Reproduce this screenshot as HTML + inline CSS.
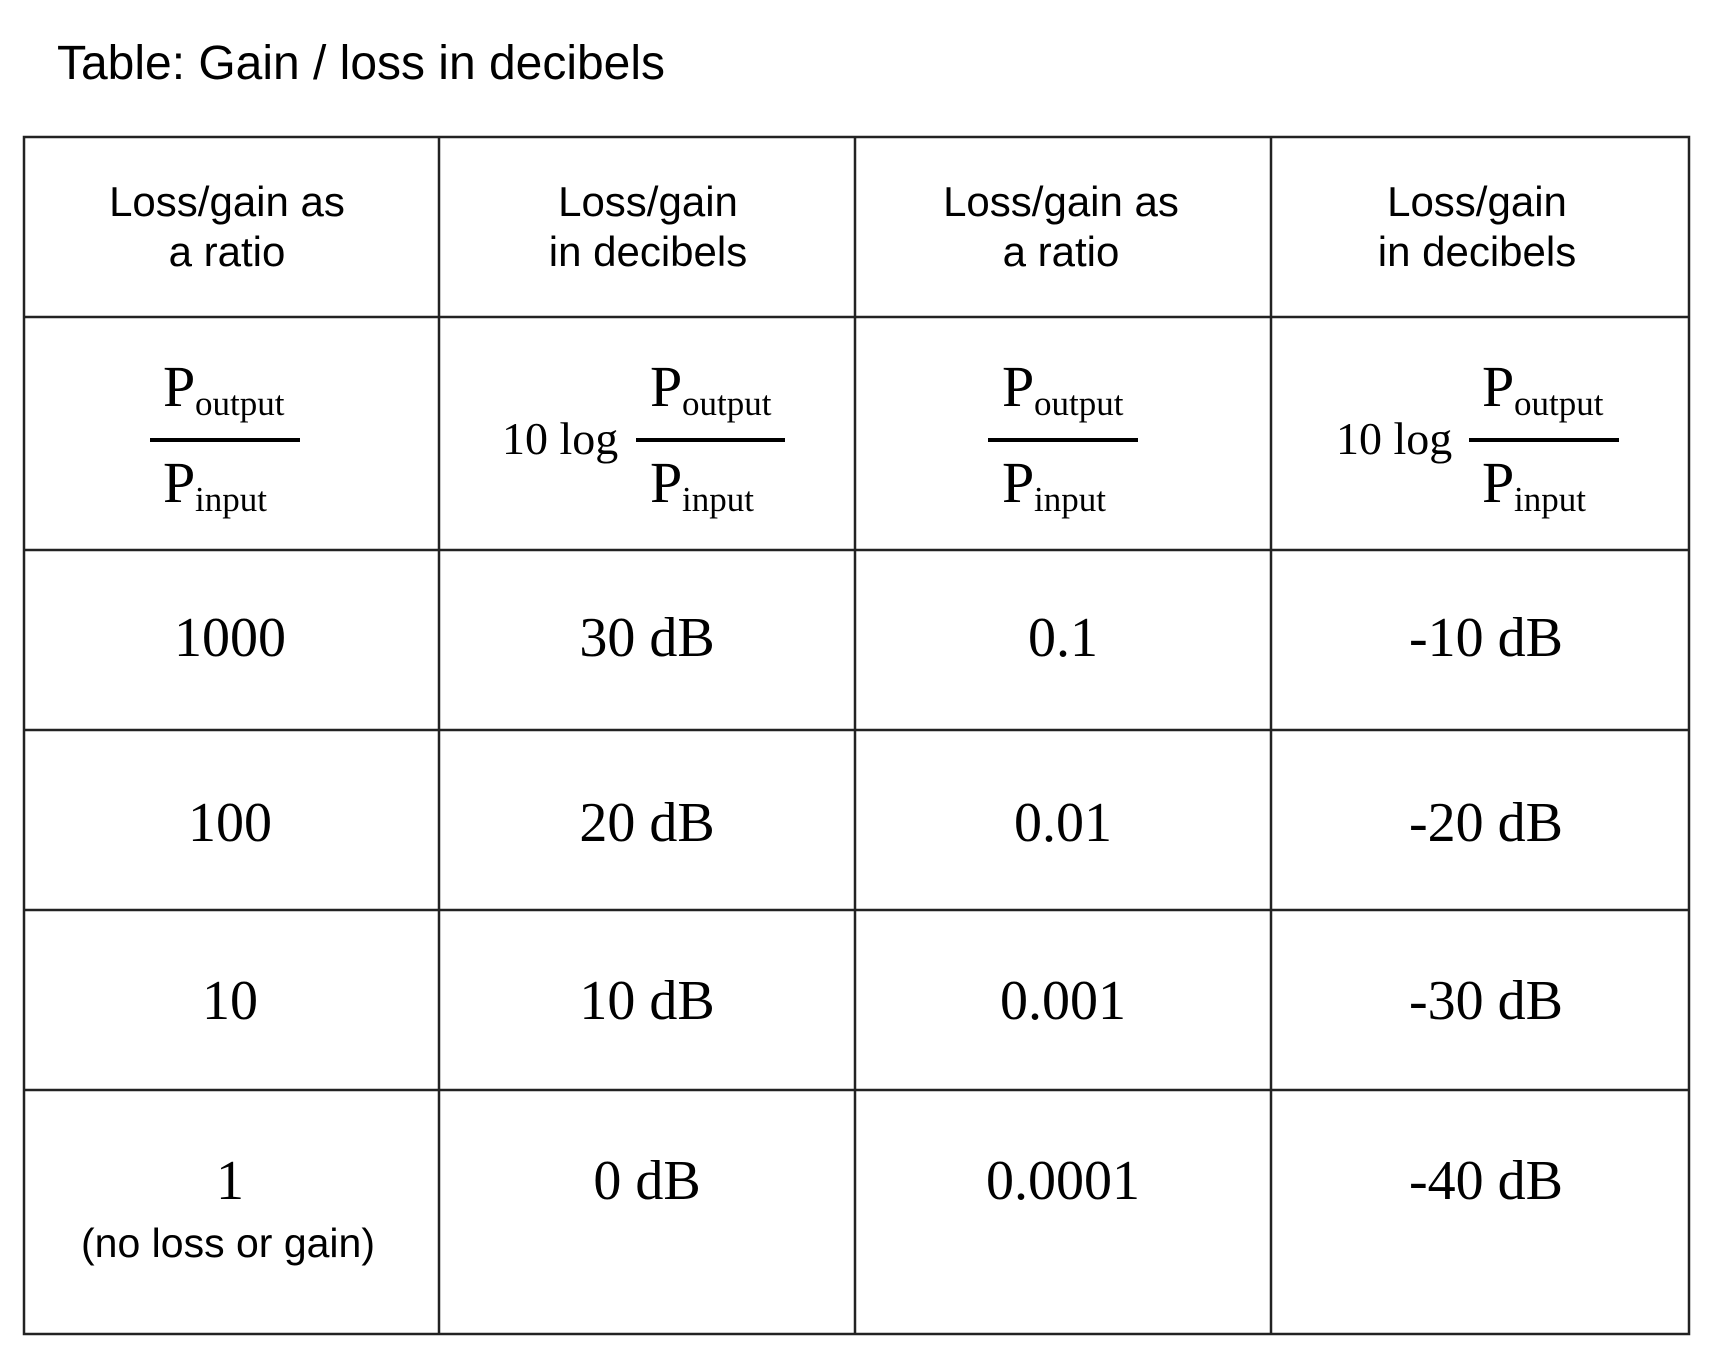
<!DOCTYPE html>
<html><head><meta charset="utf-8"><style>html,body{margin:0;padding:0;background:#fff}svg{display:block}</style></head>
<body>
<svg width="1713" height="1359" viewBox="0 0 1713 1359" xmlns="http://www.w3.org/2000/svg">
<rect width="1713" height="1359" fill="#fff"/>
<text x="57" y="79" font-family="Liberation Sans, Arial, sans-serif" font-size="48" textLength="608" lengthAdjust="spacingAndGlyphs" fill="#000">Table: Gain / loss in decibels</text>
<g stroke="#222" stroke-width="2.5" fill="none">
<rect x="24" y="137" width="1665" height="1197"/>
<line x1="439" y1="137" x2="439" y2="1334"/>
<line x1="855" y1="137" x2="855" y2="1334"/>
<line x1="1271" y1="137" x2="1271" y2="1334"/>
<line x1="24" y1="317" x2="1689" y2="317"/>
<line x1="24" y1="550" x2="1689" y2="550"/>
<line x1="24" y1="730" x2="1689" y2="730"/>
<line x1="24" y1="910" x2="1689" y2="910"/>
<line x1="24" y1="1090" x2="1689" y2="1090"/>
</g>
<g font-family="Liberation Sans, Arial, sans-serif" font-size="42" text-anchor="middle" fill="#000">
<text x="227" y="216">Loss/gain as</text><text x="227" y="266">a ratio</text>
<text x="648" y="216">Loss/gain</text><text x="648" y="266">in decibels</text>
<text x="1061" y="216">Loss/gain as</text><text x="1061" y="266">a ratio</text>
<text x="1477" y="216">Loss/gain</text><text x="1477" y="266">in decibels</text>
<text x="228" y="1257" font-size="41">(no loss or gain)</text>
</g>
<g stroke="#000" stroke-width="4">
<line x1="150" y1="440" x2="300" y2="440"/>
<line x1="636" y1="440" x2="785" y2="440"/>
<line x1="988" y1="440" x2="1138" y2="440"/>
<line x1="1469" y1="440" x2="1619" y2="440"/>
</g>
<g font-family="Liberation Serif, Times New Roman, serif" fill="#000">
<g font-size="58">
<text x="163" y="406">P</text><text x="163" y="502">P</text>
<text x="650" y="406">P</text><text x="650" y="502">P</text>
<text x="1002" y="406">P</text><text x="1002" y="502">P</text>
<text x="1482" y="406">P</text><text x="1482" y="502">P</text>
</g>
<g font-size="35">
<text x="195" y="415">output</text><text x="195" y="511">input</text>
<text x="682" y="415">output</text><text x="682" y="511">input</text>
<text x="1034" y="415">output</text><text x="1034" y="511">input</text>
<text x="1514" y="415">output</text><text x="1514" y="511">input</text>
</g>
<g font-size="46">
<text x="502" y="454">10 log</text>
<text x="1336" y="454">10 log</text>
</g>
<g font-size="56" text-anchor="middle">
<text x="230" y="656">1000</text><text x="647" y="656">30 dB</text><text x="1063" y="656">0.1</text><text x="1486" y="656">-10 dB</text>
<text x="230" y="841">100</text><text x="647" y="841">20 dB</text><text x="1063" y="841">0.01</text><text x="1486" y="841">-20 dB</text>
<text x="230" y="1019">10</text><text x="647" y="1019">10 dB</text><text x="1063" y="1019">0.001</text><text x="1486" y="1019">-30 dB</text>
<text x="230" y="1199">1</text><text x="647" y="1199">0 dB</text><text x="1063" y="1199">0.0001</text><text x="1486" y="1199">-40 dB</text>
</g>
</g>
</svg>
</body></html>
